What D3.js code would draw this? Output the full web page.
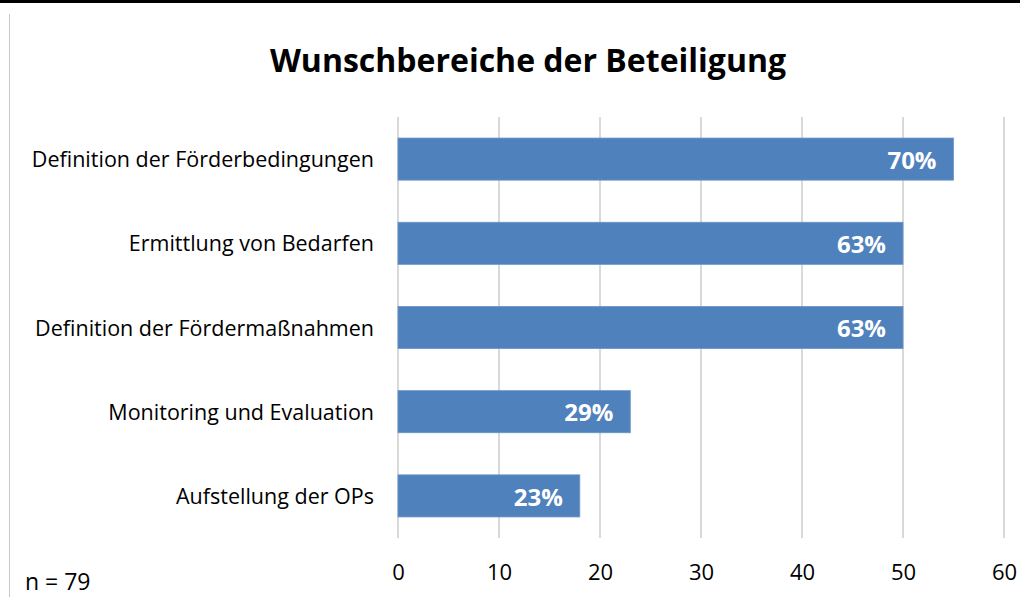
<!DOCTYPE html>
<html>
<head>
<meta charset="utf-8">
<script src="https://cdn.jsdelivr.net/npm/d3@7"></script>
<style>
  body { margin: 0; background: #fff; }
  text { font-family: "Open Sans", sans-serif; }
</style>
</head>
<body>
<div id="wrapper"></div>
<script>
const categories = [
  "Definition der Förderbedingungen",
  "Ermittlung von Bedarfen",
  "Definition der Fördermaßnahmen",
  "Monitoring und Evaluation",
  "Aufstellung der OPs"
];
const counts = [55, 50, 50, 23, 18];
const percentLabels = ["70%", "63%", "63%", "29%", "23%"];
const xTicks = [0, 10, 20, 30, 40, 50, 60];
const chartTitle = "Wunschbereiche der Beteiligung";
const noteText = "n = 79";

const dimensions = {
  width: 1020,
  height: 597,
  margin: { top: 117, right: 16, bottom: 59, left: 398 }
};
dimensions.boundedWidth = dimensions.width - dimensions.margin.left - dimensions.margin.right;
dimensions.boundedHeight = dimensions.height - dimensions.margin.top - dimensions.margin.bottom;

const svg = d3.select("#wrapper")
  .append("svg")
    .attr("width", dimensions.width)
    .attr("height", dimensions.height);

// frame lines
svg.append("rect")
  .attr("x", 0).attr("y", 0)
  .attr("width", dimensions.width).attr("height", 3)
  .attr("fill", "#000");
svg.append("line")
  .attr("x1", 9.5).attr("x2", 9.5)
  .attr("y1", 14).attr("y2", dimensions.height)
  .attr("stroke", "#c8c8c8").attr("stroke-width", 1);

svg.append("text")
  .attr("x", 528).attr("y", 72)
  .attr("text-anchor", "middle")
  .style("font-size", "32px")
  .style("font-weight", "bold")
  .attr("fill", "#000")
  .text(chartTitle);

const bounds = svg.append("g")
  .attr("transform", `translate(${dimensions.margin.left},${dimensions.margin.top})`);

const xScale = d3.scaleLinear()
  .domain([0, 60])
  .range([0, dimensions.boundedWidth]);

const yScale = d3.scaleBand()
  .domain(categories)
  .range([0, dimensions.boundedHeight])
  .paddingInner(0.5)
  .paddingOuter(0.25);

// gridlines
bounds.append("g")
  .selectAll("line")
  .data(xTicks)
  .join("line")
    .attr("x1", d => xScale(d))
    .attr("x2", d => xScale(d))
    .attr("y1", 0)
    .attr("y2", dimensions.boundedHeight)
    .attr("stroke", "#d9d9d9")
    .attr("stroke-width", 2);

// bars
bounds.append("g")
  .selectAll("rect")
  .data(counts)
  .join("rect")
    .attr("x", xScale(0))
    .attr("y", (d, i) => yScale(categories[i]))
    .attr("width", d => xScale(d) - xScale(0))
    .attr("height", yScale.bandwidth())
    .attr("fill", "#4f81bd")
    .attr("stroke", "#6b95c8")
    .attr("stroke-width", 0.8);

// value labels
bounds.append("g")
  .selectAll("text")
  .data(counts)
  .join("text")
    .attr("x", d => xScale(d) - 17)
    .attr("y", (d, i) => yScale(categories[i]) + yScale.bandwidth() / 2)
    .attr("dy", "0.4em")
    .attr("text-anchor", "end")
    .attr("fill", "#fff")
    .style("font-size", "24px")
    .style("font-weight", "bold")
    .text((d, i) => percentLabels[i]);

// y axis labels
const yAxis = bounds.append("g")
  .call(d3.axisLeft(yScale).tickSize(0).tickPadding(24));
yAxis.select(".domain").remove();
yAxis.selectAll("text")
  .attr("fill", "#000")
  .attr("dy", "0.38em")
  .style("font-size", "21.5px")
  .style("font-family", "'Open Sans', sans-serif");

// x axis labels
const xAxis = bounds.append("g")
  .attr("transform", `translate(0,${dimensions.boundedHeight})`)
  .call(d3.axisBottom(xScale).tickValues(xTicks).tickSize(0).tickPadding(26));
xAxis.select(".domain").remove();
xAxis.selectAll("text")
  .attr("fill", "#000")
  .style("font-size", "22px")
  .style("font-family", "'Open Sans', sans-serif");

svg.append("text")
  .attr("x", 25).attr("y", 590)
  .attr("fill", "#000")
  .style("font-size", "23px")
  .text(noteText);
</script>
</body>
</html>
